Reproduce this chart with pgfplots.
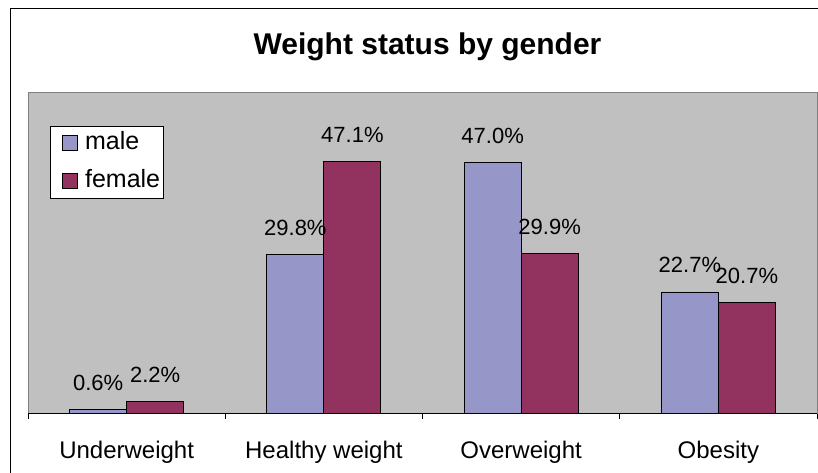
\documentclass[border=0pt]{standalone}
\usepackage{pgfplots}
\pgfplotsset{compat=1.18}
\usepackage{fontspec}
\setmainfont{Liberation Sans}
\usetikzlibrary{calc}

\definecolor{malecol}{RGB}{150,150,200}
\definecolor{femalecol}{RGB}{146,50,94}
\definecolor{plotbg}{RGB}{192,192,192}
\definecolor{plotframe}{RGB}{128,128,128}

% weight status shares (%) by gender; categories at x = 0..3
\pgfplotstableread{
x  male  female
0  0.6   2.2
1  29.8  47.1
2  47.0  29.9
3  22.7  20.7
}\weightdata

\begin{document}
\begin{tikzpicture}
\begin{axis}[
  scale only axis,
  width=789pt, height=321pt,
  xmin=-0.5, xmax=3.5,
  ymin=0, ymax=60.2,
  /pgf/number format/assume math mode=true,
  axis background/.style={fill=plotbg},
  axis line style={draw=plotframe, line width=0.8pt},
  ybar, bar width=57pt,
  xtick={0,1,2,3},
  xticklabels={Underweight,Healthy weight,Overweight,Obesity},
  major tick length=0pt,
  minor xtick={-0.5,0.5,1.5,2.5,3.5},
  minor tick length=6pt,
  xtick pos=bottom, xtick align=outside,
  minor tick style={black, line width=0.6pt},
  ytick=\empty,
  xticklabel style={font=\fontsize{24}{26}\selectfont, anchor=base, yshift=-45pt},
  nodes near coords={\pgfmathprintnumber[fixed,fixed zerofill,precision=1]{\pgfplotspointmeta}\%},
  every node near coord/.append style={font=\fontsize{22}{24}\selectfont, anchor=base, yshift=19pt, inner sep=0pt, black},
  legend style={at={(axis description cs:0.0279,0.894)}, anchor=north west,
    draw=black, fill=white, line width=0.6pt,
    font=\fontsize{25}{27}\selectfont,
    inner xsep=2pt, inner ysep=6pt, row sep=16pt,
    nodes={inner sep=1pt, text height=16pt, text depth=4pt}},
  legend cell align=left,
  legend image code/.code={\path (-10pt,0pt) (21pt,0pt); \draw[#1, draw=black, line width=0.8pt] (0pt,-7.5pt) rectangle (15pt,7.5pt);},
  clip=false,
]
\addplot+[draw=black, line width=0.8pt, fill=malecol, bar shift=-28.5pt] table[x=x, y=male] {\weightdata};
\addplot+[draw=black, line width=0.8pt, fill=femalecol, bar shift=28.5pt] table[x=x, y=female] {\weightdata};
\legend{male,female}
\draw[black, line width=0.8pt] (rel axis cs:0,0) -- (rel axis cs:1,0);
\coordinate (SW) at (rel axis cs:0,0);
\coordinate (NE) at (rel axis cs:1,1);
\node[font=\fontsize{30}{33}\selectfont\bfseries] at ($(rel axis cs:0.5,1)+(5pt,45pt)$) {Weight status by gender};
\end{axis}
\pgfresetboundingbox
\path[use as bounding box] ($(SW)+(-28pt,-60pt)$) rectangle ($(NE)+(1pt,92pt)$);
\draw[black, line width=0.8pt] ($(SW)+(-18pt,-62pt)$) -- ($(SW|-NE)+(-18pt,84pt)$) -- ($(NE)+(3pt,84pt)$);
\end{tikzpicture}
\end{document}
